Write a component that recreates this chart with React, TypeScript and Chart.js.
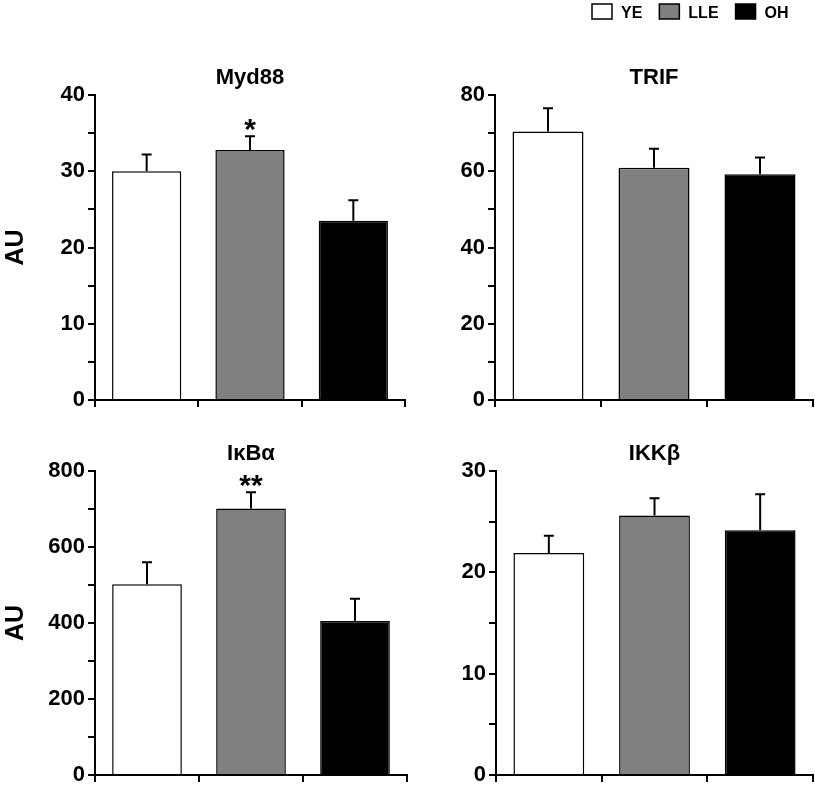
import React, { useEffect, useRef } from 'react';
import { Chart, registerables } from 'chart.js';

Chart.register(...registerables);

// ---- data ----
const groups = ['YE', 'LLE', 'OH'];
const groupColors = ['#ffffff', '#808080', '#000000'];

const myd88Mean = [30.0, 32.8, 23.5];
const myd88Sem = [2.2, 1.8, 2.7];
const myd88Stars = ['', '*', ''];

const trifMean = [70.4, 60.9, 59.2];
const trifSem = [6.1, 5.0, 4.4];
const trifStars = ['', '', ''];

const ikbaMean = [502, 701, 405];
const ikbaSem = [58, 43, 59];
const ikbaStars = ['', '**', ''];

const ikkbMean = [21.9, 25.6, 24.15];
const ikkbSem = [1.7, 1.7, 3.55];
const ikkbStars = ['', '', ''];

const panelTitles = ['Myd88', 'TRIF', 'IκBα', 'IKKβ'];
const axisMax = [40, 80, 800, 30];
const majorStep = [10, 20, 200, 10];
const yAxisTitle = 'AU';

const FAMILY = '"Liberation Sans", Arial, Helvetica, sans-serif';

type PanelCfg = {
  title: string;
  mean: number[];
  sem: number[];
  stars: string[];
  max: number;
  major: number;
  showAU: boolean;
  legend: boolean;
  left: number;
  top: number;
  w: number;
  h: number;
  yWidth: number;
  pad: { left: number; right: number; top: number; bottom: number };
  titleY: number;
};

const panels: PanelCfg[] = [
  {
    title: panelTitles[0], mean: myd88Mean, sem: myd88Sem, stars: myd88Stars,
    max: axisMax[0], major: majorStep[0], showAU: true, legend: false,
    left: 0, top: 0, w: 408, h: 410, yWidth: 95,
    pad: { left: 0, right: 3, top: 95, bottom: 0 }, titleY: 84,
  },
  {
    title: panelTitles[1], mean: trifMean, sem: trifSem, stars: trifStars,
    max: axisMax[1], major: majorStep[1], showAU: false, legend: true,
    left: 408, top: 0, w: 407, h: 410, yWidth: 87,
    pad: { left: 0, right: 2, top: 95, bottom: 0 }, titleY: 84,
  },
  {
    title: panelTitles[2], mean: ikbaMean, sem: ikbaSem, stars: ikbaStars,
    max: axisMax[2], major: majorStep[2], showAU: true, legend: false,
    left: 0, top: 410, w: 408, h: 381, yWidth: 95,
    pad: { left: 0, right: 1, top: 61, bottom: 6 }, titleY: 50,
  },
  {
    title: panelTitles[3], mean: ikkbMean, sem: ikkbSem, stars: ikkbStars,
    max: axisMax[3], major: majorStep[3], showAU: false, legend: false,
    left: 408, top: 410, w: 407, h: 381, yWidth: 88,
    pad: { left: 0, right: 2, top: 61, bottom: 6 }, titleY: 50,
  },
];

function makeDecor(cfg: PanelCfg) {
  return {
    id: 'decor',
    afterDatasetsDraw(chart: any) {
      const { ctx, chartArea } = chart;
      const y = chart.scales.y;
      const meta = chart.getDatasetMeta(0);
      ctx.save();
      ctx.strokeStyle = '#000';
      ctx.fillStyle = '#000';
      ctx.lineWidth = 2;
      meta.data.forEach((bar: any, i: number) => {
        const base = y.getPixelForValue(cfg.mean[i]);
        const top = y.getPixelForValue(cfg.mean[i] + cfg.sem[i]);
        ctx.beginPath();
        ctx.moveTo(bar.x, base);
        ctx.lineTo(bar.x, top);
        ctx.moveTo(bar.x - 5, top);
        ctx.lineTo(bar.x + 5, top);
        ctx.stroke();
        if (cfg.stars[i]) {
          ctx.font = `bold 30px ${FAMILY}`;
          ctx.textAlign = 'center';
          ctx.textBaseline = 'alphabetic';
          ctx.fillText(cfg.stars[i], bar.x, top + 3);
        }
      });
      // panel title
      ctx.font = `bold 22px ${FAMILY}`;
      ctx.textAlign = 'center';
      ctx.textBaseline = 'alphabetic';
      ctx.fillText(cfg.title, (chartArea.left + chartArea.right) / 2, cfg.titleY);

      // legend
      if (cfg.legend) {
        ctx.font = `bold 16px ${FAMILY}`;
        ctx.textAlign = 'left';
        let x = 592 - cfg.left;
        groups.forEach((g, i) => {
          ctx.fillStyle = groupColors[i];
          ctx.fillRect(x, 4, 20, 15);
          ctx.strokeStyle = '#000';
          ctx.lineWidth = 1.5;
          ctx.strokeRect(x, 4, 20, 15);
          ctx.fillStyle = '#000';
          ctx.fillText(g, x + 29, 17.5);
          x += 29 + ctx.measureText(g).width + 17;
        });
      }
      ctx.restore();
    },
  };
}

function zeroPad(s: any) {
  s.paddingTop = 0;
  s.paddingBottom = 0;
  s.paddingLeft = 0;
  s.paddingRight = 0;
}

function Panel({ cfg }: { cfg: PanelCfg }) {
  const ref = useRef<HTMLCanvasElement | null>(null);
  useEffect(() => {
    if (!ref.current) return;
    const tickFont = { family: FAMILY, size: 22, weight: 'bold' as const };
    const chart = new Chart(ref.current, {
      type: 'bar',
      data: {
        labels: groups,
        datasets: [
          {
            data: cfg.mean,
            backgroundColor: groupColors,
            borderColor: '#000',
            borderWidth: 1.5,
            barPercentage: 0.67,
            categoryPercentage: 1,
          },
        ],
      },
      options: {
        responsive: false,
        animation: false,
        devicePixelRatio: 1,
        layout: { padding: cfg.pad },
        plugins: {
          legend: { display: false },
          tooltip: { enabled: false },
          title: { display: false },
        },
        scales: {
          x: {
            type: 'category',
            offset: true,
            grid: {
              display: true,
              drawOnChartArea: false,
              drawTicks: true,
              tickLength: 7,
              color: '#000',
              lineWidth: 2,
              offset: true,
            },
            border: { display: true, color: '#000', width: 2 },
            ticks: { display: false },
            afterFit: (s: any) => {
              s.height = 10;
              zeroPad(s);
            },
          },
          y: {
            min: 0,
            max: cfg.max,
            grid: {
              display: true,
              drawOnChartArea: false,
              drawTicks: true,
              tickLength: 7,
              color: '#000',
              lineWidth: 2,
            },
            border: { display: true, color: '#000', width: 2 },
            ticks: {
              stepSize: cfg.major / 2,
              autoSkip: false,
              padding: 3,
              color: '#000',
              font: tickFont,
              callback: (v: any) => (Number(v) % cfg.major === 0 ? String(v) : ''),
            },
            title: {
              display: cfg.showAU,
              text: yAxisTitle,
              color: '#000',
              font: { family: FAMILY, size: 25, weight: 'bold' },
              padding: { top: 1, bottom: 0 },
            },
            afterFit: (s: any) => {
              s.width = cfg.yWidth;
              zeroPad(s);
            },
          },
        },
      },
      plugins: [makeDecor(cfg)],
    });
    return () => chart.destroy();
  }, []);
  return (
    <canvas
      ref={ref}
      width={cfg.w}
      height={cfg.h}
      style={{ position: 'absolute', left: cfg.left, top: cfg.top, width: cfg.w, height: cfg.h }}
    />
  );
}

export default function App() {
  return (
    <div
      style={{
        position: 'absolute',
        left: 0,
        top: 0,
        width: 815,
        height: 791,
        background: '#fff',
        overflow: 'hidden',
      }}
    >
      {panels.map((p, i) => (
        <Panel key={i} cfg={p} />
      ))}
    </div>
  );
}
